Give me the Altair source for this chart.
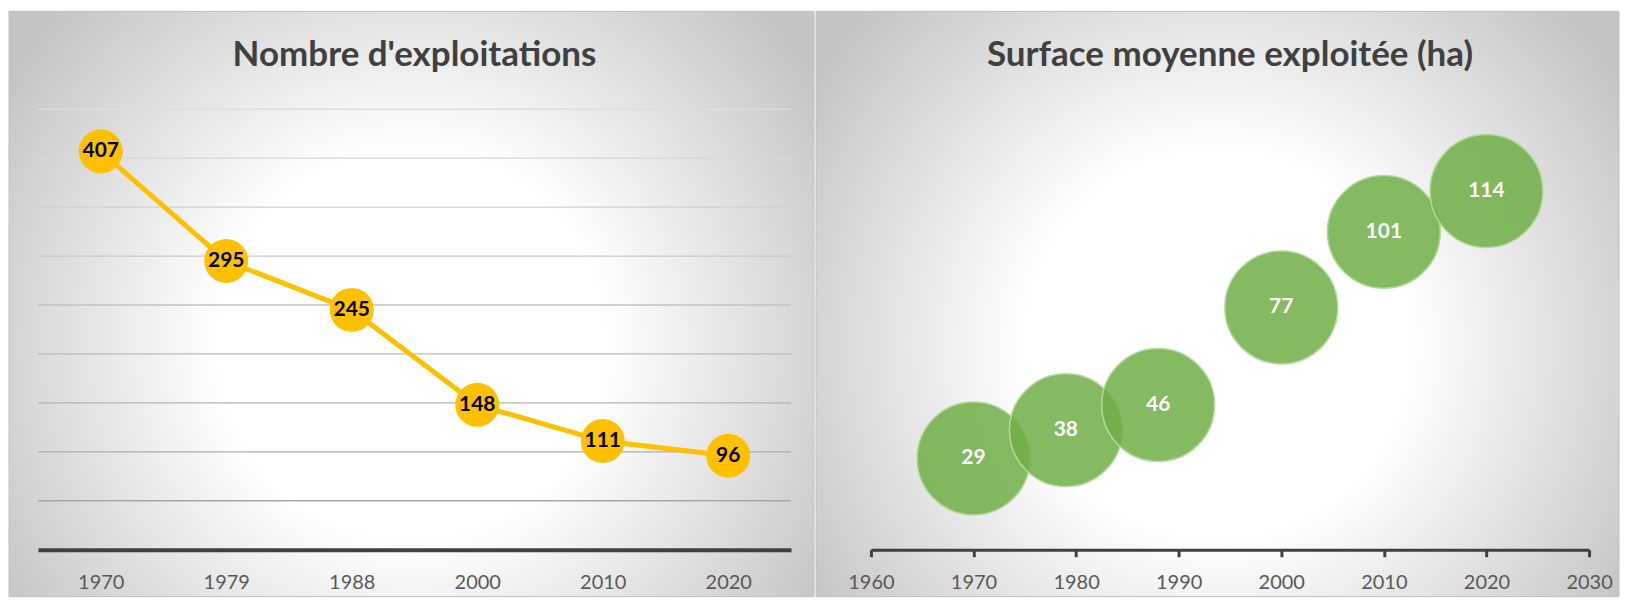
import altair as alt
import pandas as pd

# ---- data ----
years_a = ["1970", "1979", "1988", "2000", "2010", "2020"]
farms = [407, 295, 245, 148, 111, 96]
years_b = [1970, 1979, 1988, 2000, 2010, 2020]
area = [29, 38, 46, 77, 101, 114]
grid_values = [50, 100, 150, 200, 250, 300, 350, 400, 450]
xticks_b = [1960, 1970, 1980, 1990, 2000, 2010, 2020, 2030]
title_a = "Nombre d'exploitations"
title_b = "Surface moyenne exploitée (ha)"

FONT = "Lato"
W1, W2, H = 754, 719, 441

df_a = pd.DataFrame({"year": years_a, "n": farms})
df_b = pd.DataFrame({"year": years_b, "ha": area})
df_grid = pd.DataFrame({"v": grid_values})
one = alt.Data(values=[{}])

grad = {
    "gradient": "radial",
    "x1": 0.5, "y1": 0.55, "x2": 0.5, "y2": 0.55, "r1": 0, "r2": 0.6,
    "stops": [
        {"offset": 0, "color": "#ffffff"},
        {"offset": 0.4, "color": "#ffffff"},
        {"offset": 1, "color": "#c4c4c4"},
    ],
}


def background(x_left, x_right):
    return alt.Chart(one).mark_rect(fill=grad, stroke="#c0c0c0", strokeWidth=1).encode(
        x=alt.value(x_left), x2=alt.value(x_right), y=alt.value(-98), y2=alt.value(H + 47)
    )


def title(text, w, size):
    return alt.Chart(one).mark_text(
        text=text, font=FONT, fontSize=size, fontWeight="bold", color="#404040",
        align="center", baseline="alphabetic",
    ).encode(x=alt.value(w / 2), y=alt.value(-43))


# ---- left panel ----
xa = alt.X(
    "year:O", sort=None, scale=alt.Scale(type="point", padding=0.5),
    axis=alt.Axis(
        title=None, labelAngle=0, ticks=False, tickSize=0, domainColor="#404040", domainWidth=4,
        labelFont=FONT, labelFontSize=20, labelColor="#595959", labelBaseline="middle",
        labelPadding=33, zindex=1, grid=False,
    ),
)
ya_scale = alt.Scale(domain=[0, 450], nice=False)

grid_rules = alt.Chart(df_grid).mark_rule(strokeWidth=1.3).encode(
    y=alt.Y("v:Q", scale=ya_scale, axis=None),
    color=alt.Color("v:Q", scale=alt.Scale(domain=[0, 450], range=["#a0a0a0", "#dedede"]), legend=None),
)
base_a = alt.Chart(df_a).encode(x=xa, y=alt.Y("n:Q", scale=ya_scale, axis=None))
line_a = base_a.mark_line(color="#FFC000", strokeWidth=5)
pts_a = base_a.mark_circle(size=1936, color="#FFC000", opacity=1)
lbl_a = base_a.mark_text(font=FONT, fontSize=21, fontWeight="bold", color="#000000", baseline="middle").encode(
    text="n:Q"
)

left = alt.layer(
    background(-29, W1 + 23), title(title_a, W1, 35), grid_rules, line_a, pts_a, lbl_a
).resolve_scale(color="independent").properties(width=W1, height=H)

# ---- right panel ----
xb = alt.X(
    "year:Q", scale=alt.Scale(domain=[1960, 2030], nice=False, zero=False),
    axis=alt.Axis(
        title=None, values=xticks_b, format="d", tickSize=7, tickWidth=3, tickColor="#404040",
        domainColor="#404040", domainWidth=3, labelFont=FONT, labelFontSize=20, labelColor="#595959",
        labelBaseline="middle", labelPadding=26, labelFlush=False, labelOverlap=False, zindex=1, grid=False,
    ),
)
yb = alt.Y("ha:Q", scale=alt.Scale(domain=[0, 140], nice=False), axis=None)
base_b = alt.Chart(df_b).encode(x=xb, y=yb)
bub_b = base_b.mark_circle(size=12770, fill="#70AD47", fillOpacity=0.85, stroke="#b4d99c", strokeWidth=1.5, strokeOpacity=1)
lbl_b = base_b.mark_text(font=FONT, fontSize=21, fontWeight="bold", color="#ffffff", baseline="middle").encode(
    text="ha:Q"
)

right = alt.layer(
    background(-55, W2 + 30), title(title_b, W2, 35), bub_b, lbl_b
).properties(width=W2, height=H)

chart = alt.hconcat(left, right, spacing=0).configure(
    padding={"left": 0, "top": 2, "right": 0, "bottom": 0}
).configure_view(stroke=None)

chart.save("out.html", embed_options={"renderer": "svg", "actions": False})
